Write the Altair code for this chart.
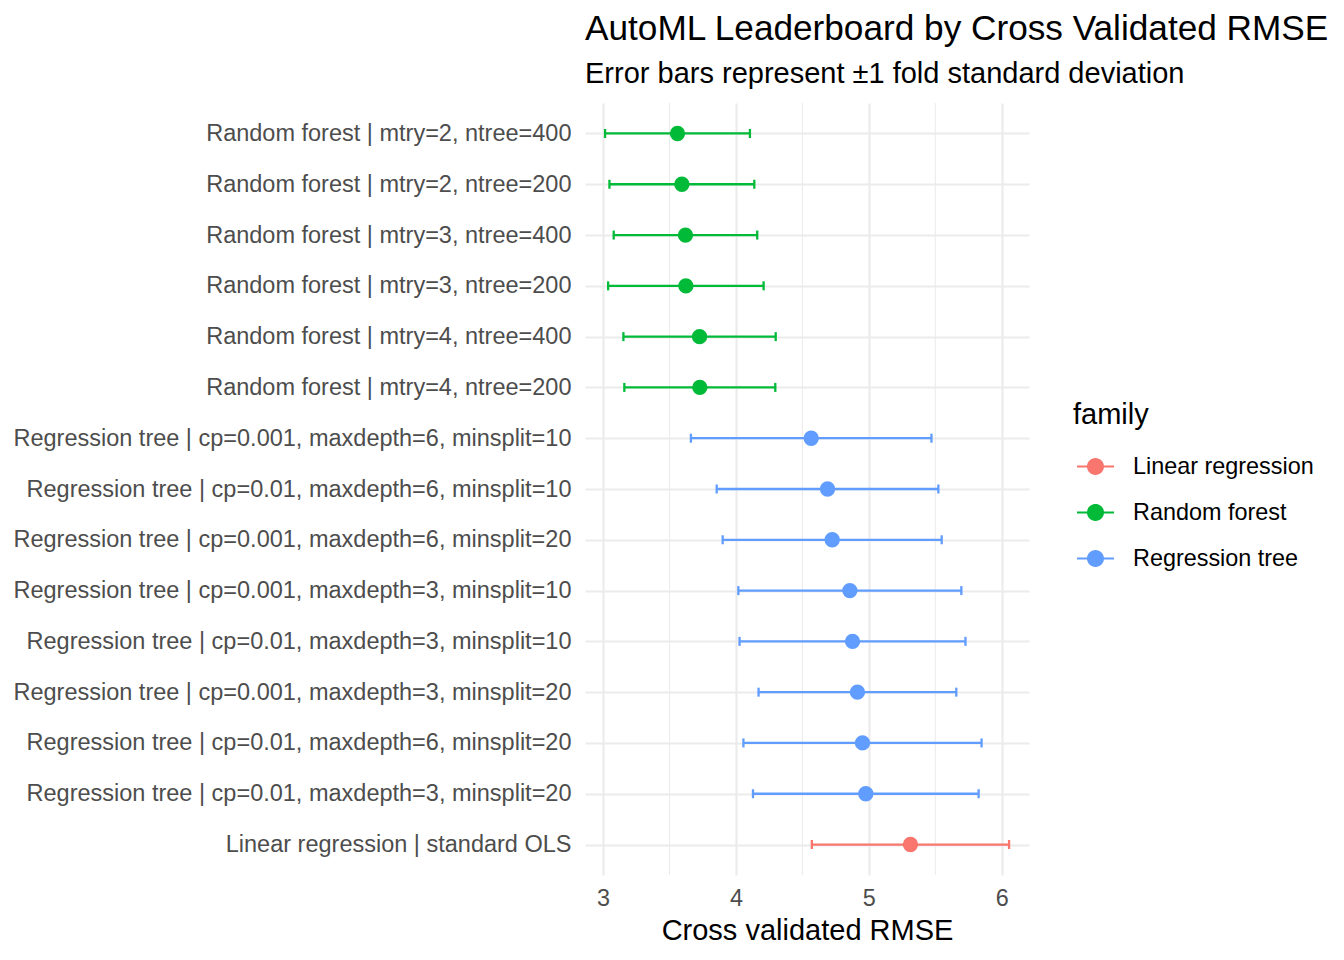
import altair as alt
import pandas as pd

models = [
    "Random forest | mtry=2, ntree=400",
    "Random forest | mtry=2, ntree=200",
    "Random forest | mtry=3, ntree=400",
    "Random forest | mtry=3, ntree=200",
    "Random forest | mtry=4, ntree=400",
    "Random forest | mtry=4, ntree=200",
    "Regression tree | cp=0.001, maxdepth=6, minsplit=10",
    "Regression tree | cp=0.01, maxdepth=6, minsplit=10",
    "Regression tree | cp=0.001, maxdepth=6, minsplit=20",
    "Regression tree | cp=0.001, maxdepth=3, minsplit=10",
    "Regression tree | cp=0.01, maxdepth=3, minsplit=10",
    "Regression tree | cp=0.001, maxdepth=3, minsplit=20",
    "Regression tree | cp=0.01, maxdepth=6, minsplit=20",
    "Regression tree | cp=0.01, maxdepth=3, minsplit=20",
    "Linear regression | standard OLS",
]
family = ["Random forest"] * 6 + ["Regression tree"] * 8 + ["Linear regression"]
rmse = [3.560, 3.593, 3.620, 3.623, 3.726, 3.728, 4.566, 4.689, 4.724,
        4.857, 4.877, 4.914, 4.952, 4.977, 5.313]
sd = [0.545, 0.545, 0.540, 0.585, 0.573, 0.568, 0.905, 0.834, 0.824,
      0.839, 0.850, 0.744, 0.896, 0.849, 0.742]

family_order = ["Linear regression", "Random forest", "Regression tree"]
family_colors = ["#F8766D", "#00BA38", "#619CFF"]
x_ticks = [3, 4, 5, 6]
minor_grid = [3.5, 4.5, 5.5]

df = pd.DataFrame({"model": models, "family": family, "rmse": rmse, "sd": sd})
grid_df = pd.DataFrame({"v": minor_grid})

FONT = "Liberation Sans"
x_scale = alt.Scale(domain=[2.864, 6.205], nice=False, zero=False)
y_scale = alt.Scale(type="point", padding=0.6, domain=models)
color_scale = alt.Scale(domain=family_order, range=family_colors)
# same mapping, listed in reverse so these guide-less scales stay separate
bar_scale = alt.Scale(domain=family_order[::-1], range=family_colors[::-1])

legend_path = ("M-1,-0.06L1,-0.06L1,0.06L-1,0.06Z "
               "M0.46,0A0.46,0.46 0 1,1 -0.46,0A0.46,0.46 0 1,1 0.46,0Z")

x_axis = alt.Axis(title="Cross validated RMSE", values=x_ticks,
                  labelFontSize=23.4, labelColor="#4D4D4D", labelFont=FONT,
                  labelPadding=12, ticks=False, domain=False, grid=True,
                  gridColor="#EBEBEB", gridWidth=2.1,
                  titleFontSize=29, titleFont=FONT, titleColor="black",
                  titleFontWeight="normal", titlePadding=7)
y_axis = alt.Axis(title=None, labelFontSize=23.5, labelColor="#4D4D4D",
                  labelFont=FONT, labelPadding=14, labelLimit=800,
                  ticks=False, domain=False, grid=True,
                  gridColor="#EBEBEB", gridWidth=2.1)

base = alt.Chart(df).transform_calculate(
    lo="datum.rmse - datum.sd", hi="datum.rmse + datum.sd"
)

minor = alt.Chart(grid_df).mark_rule(color="#EBEBEB", strokeWidth=1.05).encode(
    x=alt.X("v:Q", scale=x_scale, axis=x_axis)
)

bars = base.mark_rule(strokeWidth=2.3).encode(
    x=alt.X("lo:Q", scale=x_scale, axis=x_axis),
    x2="hi:Q",
    y=alt.Y("model:N", scale=y_scale, sort=models, axis=y_axis),
    stroke=alt.Stroke("family:N", scale=bar_scale, legend=None),
)

caps_lo = base.mark_tick(thickness=2.3, size=9, opacity=1).encode(
    x=alt.X("lo:Q", scale=x_scale, axis=x_axis),
    y=alt.Y("model:N", scale=y_scale, sort=models, axis=y_axis),
    fill=alt.Fill("family:N", scale=bar_scale, legend=None),
)
caps_hi = base.mark_tick(thickness=2.3, size=9, opacity=1).encode(
    x=alt.X("hi:Q", scale=x_scale, axis=x_axis),
    y=alt.Y("model:N", scale=y_scale, sort=models, axis=y_axis),
    fill=alt.Fill("family:N", scale=bar_scale, legend=None),
)

points = base.mark_circle(size=235, opacity=1).encode(
    x=alt.X("rmse:Q", scale=x_scale, axis=x_axis),
    y=alt.Y("model:N", scale=y_scale, sort=models, axis=y_axis),
    color=alt.Color("family:N", scale=color_scale,
                    legend=alt.Legend(title="family", orient="none",
                                      legendX=488, legendY=298,
                                      titleFontSize=29, titleFont=FONT,
                                      titleFontWeight="normal", titleColor="black",
                                      labelFontSize=23.4, labelFont=FONT,
                                      labelColor="black", labelLimit=400,
                                      symbolType=legend_path, symbolSize=1369,
                                      symbolStrokeWidth=0, symbolOpacity=1,
                                      symbolOffset=4, labelOffset=19,
                                      rowPadding=16, titlePadding=18)),
)

chart = alt.layer(minor, bars, caps_lo, caps_hi, points).properties(
    width=444,
    height=772,
    autosize=alt.AutoSizeParams(type="none"),
    padding={"left": 577, "top": 95, "right": 300, "bottom": 70},
    title=alt.TitleParams(
        text="AutoML Leaderboard by Cross Validated RMSE",
        subtitle="Error bars represent ±1 fold standard deviation",
        anchor="start", frame="group", font=FONT, subtitleFont=FONT,
        fontSize=35.2, subtitleFontSize=29, fontWeight="normal",
        color="black", subtitleColor="black", offset=13, subtitlePadding=13,
    ),
).configure_view(stroke=None)

chart.save("out.html", embed_options={"renderer": "svg", "actions": False})
